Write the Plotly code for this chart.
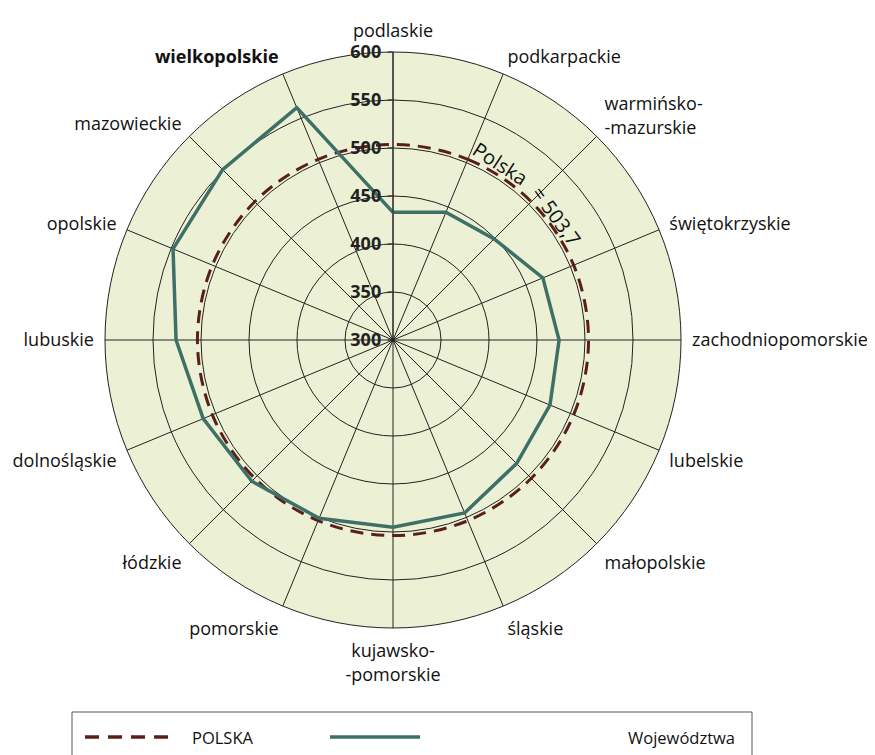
import plotly.graph_objects as go

categories = ["podlaskie", "podkarpackie", "warmińsko-mazurskie", "świętokrzyskie",
              "zachodniopomorskie", "lubelskie", "małopolskie", "śląskie",
              "kujawsko-pomorskie", "pomorskie", "łódzkie", "dolnośląskie",
              "lubuskie", "opolskie", "mazowieckie", "wielkopolskie"]
tick_labels = ["podlaskie", "podkarpackie", "warmińsko-<br>-mazurskie", "świętokrzyskie",
               "zachodniopomorskie", "lubelskie", "małopolskie", "śląskie",
               "kujawsko-<br>-pomorskie", "pomorskie", "łódzkie", "dolnośląskie",
               "lubuskie", "opolskie", "mazowieckie", "<b>wielkopolskie</b>"]
wojewodztwa = [433, 444, 449, 469, 473, 477, 482, 495, 495, 501, 508, 514, 526, 548, 551, 562]
polska_value = 503.7
polska = [polska_value] * len(categories)
radial_ticks = [300, 350, 400, 450, 500, 550, 600]
series_names = ["POLSKA", "Województwa"]

FONT = "Open Sans"
OFF = 8                      # default page body margin
W, H = 875 - OFF, 755 - OFF  # figure size so the page fits the window
C_POL = "#5B1F1A"
C_WOJ = "#3E7068"
DASH = "13px,8px"

fig = go.Figure()
fig.add_trace(go.Scatterpolar(
    r=polska + polska[:1], theta=categories + categories[:1],
    mode="lines", name=series_names[0], showlegend=False,
    line=dict(color=C_POL, width=3, dash=DASH, shape="spline"),
))
fig.add_trace(go.Scatterpolar(
    r=wojewodztwa + wojewodztwa[:1], theta=categories + categories[:1],
    mode="lines", name=series_names[1], showlegend=False,
    line=dict(color=C_WOJ, width=3.5),
))

cx, cy, R = 393, 340, 288  # window pixel coordinates


def px(x):
    return (x - OFF) / W


def py(y):
    return 1 - (y - OFF) / H


shapes = [
    dict(type="rect", xref="paper", yref="paper", x0=px(72), x1=px(752), y0=py(712), y1=py(775),
         line=dict(color="#555", width=1), fillcolor="white", layer="below"),
    dict(type="line", xref="paper", yref="paper", x0=px(85), x1=px(170), y0=py(737), y1=py(737),
         line=dict(color=C_POL, width=3.3, dash="14px,9px")),
    dict(type="line", xref="paper", yref="paper", x0=px(330), x1=px(420), y0=py(737), y1=py(737),
         line=dict(color=C_WOJ, width=3.5)),
]
annotations = [
    dict(text=series_names[0], x=px(190), y=py(737), xref="paper", yref="paper",
         xanchor="left", yanchor="middle", showarrow=False,
         font=dict(family=FONT, size=16.5, color="#111")),
    dict(text=series_names[1], x=px(626), y=py(737), xref="paper", yref="paper",
         xanchor="left", yanchor="middle", showarrow=False,
         font=dict(family=FONT, size=16.5, color="#111")),
    dict(text="Polska", x=px(500), y=py(164), xref="paper", yref="paper",
         xanchor="center", yanchor="middle", showarrow=False, textangle=33,
         font=dict(family=FONT, size=20, color="#111")),
    dict(text="= 503,7", x=px(557), y=py(216), xref="paper", yref="paper",
         xanchor="center", yanchor="middle", showarrow=False, textangle=54,
         font=dict(family=FONT, size=20, color="#111")),
]

fig.update_layout(
    width=W, height=H,
    margin=dict(l=0, r=0, t=0, b=0),
    paper_bgcolor="white",
    showlegend=False,
    font=dict(family=FONT, size=18, color="#111"),
    polar=dict(
        domain=dict(x=[px(cx - R), px(cx + R)], y=[py(cy + R), py(cy - R)]),
        bgcolor="#ECF1D5",
        angularaxis=dict(
            type="category", categoryorder="array", categoryarray=categories,
            direction="clockwise", rotation=90,
            tickmode="array", tickvals=categories, ticktext=tick_labels,
            showline=True, linecolor="#222", linewidth=1,
            gridcolor="#222", gridwidth=0.8,
            ticks="outside", ticklen=7, tickcolor="rgba(0,0,0,0)",
            tickfont=dict(family=FONT, size=18, color="#111"),
        ),
        radialaxis=dict(
            range=[300, 600], angle=90, tickangle=90, side="counterclockwise",
            tickmode="array", tickvals=radial_ticks,
            ticktext=[f"<b>{v}</b>" for v in radial_ticks],
            showline=True, linecolor="#222", linewidth=1,
            gridcolor="#222", gridwidth=0.8,
            ticks="outside", ticklen=5, tickcolor="#222",
            tickfont=dict(family=FONT, size=18, color="#222"),
        ),
    ),
    shapes=shapes,
    annotations=annotations,
)

fig.write_html("out.html")
